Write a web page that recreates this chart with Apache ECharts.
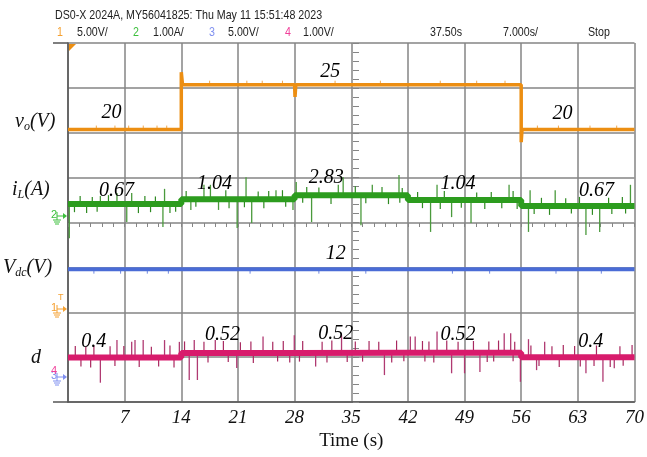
<!DOCTYPE html>
<html>
<head>
<meta charset="utf-8">
<script src="https://cdn.jsdelivr.net/npm/echarts@6/dist/echarts.min.js"></script>
<style>
  html, body { margin: 0; padding: 0; background: #fff; }
  #main { width: 647px; height: 457px; }
</style>
</head>
<body>
<div id="main"></div>
<script>
// scope screen: x in seconds, y in divisions (0 = bottom grid line, 8 = top)
const stepTimes = [0, 14, 28, 42, 56, 70];

// vo trace (orange), with step overshoots
const voT = [0, 14, 14, 14.15, 28, 28.05, 28.15, 56, 56, 56.1, 70];
const voD = [6.07, 6.07, 7.35, 7.07, 7.07, 6.8, 7.07, 7.07, 5.79, 6.07, 6.07];
const voLevel = [6.07, 7.07, 7.07, 7.07, 6.07];

// levels per step segment
const iLLevel = [4.41, 4.52, 4.61, 4.50, 4.37];
const vdcLevel = [2.96, 2.96, 2.96, 2.96, 2.96];
const dLevel = [0.99, 1.09, 1.10, 1.10, 1.00];

// large noise spikes: time and tip (divisions)
const iLSpikeT = [0.16, 4.0, 6.05, 7.26, 7.87, 11.73, 11.93, 15.18, 16.8, 17.6, 18.6, 20.9, 22.0, 22.7, 25.7, 27.8, 28.2, 30.1, 33.4, 34.0,
  36.2, 37.6, 40.9, 44.8, 45.6, 47.4, 49.8, 54.5, 56.9, 57.1, 60.2, 64.0, 65.7, 69.5];
const iLSpikeD = [3.65, 4.59, 4.66, 4.01, 4.66, 3.90, 4.75, 4.28, 4.84, 4.84, 4.28, 3.88, 5.01, 3.99, 4.72, 4.28, 4.90, 4.01, 4.84, 5.01,
  3.94, 4.84, 5.06, 3.79, 4.84, 4.12, 3.99, 4.84, 3.79, 4.72, 4.72, 3.72, 3.79, 4.84];
const dSpikeT = [4.0, 6.05, 7.87, 8.28, 9.29, 11.93, 13.76, 14.98, 15.6, 15.99, 18.2, 20.85, 24.1, 27.96, 30.6, 33.8,
  39.1, 42.3, 42.9, 45.6, 47.4, 49.0, 50.9, 53.9, 54.7, 55.9, 56.9, 57.9, 58.9, 64.0, 66.1, 67.5, 69.7];
const dSpikeD = [0.43, 1.38, 1.34, 1.38, 1.38, 1.38, 1.34, 0.49, 1.38, 0.49, 1.38, 0.76, 1.46, 1.49, 0.79, 1.49,
  0.60, 1.46, 1.46, 1.57, 0.64, 0.64, 0.67, 1.53, 1.53, 0.45, 1.40, 0.71, 1.34, 0.64, 0.45, 0.75, 1.27];

// small fuzz around the bands: time and offset from band level (divisions)
const iLFuzzT = [1.5, 3.0, 5.0, 9.5, 10.8, 0.8, 2.3, 3.6, 8.7, 10.2, 12.6, 13.3,
  14.6, 19.5, 23.5, 24.8, 26.5, 15.8, 19.9, 21.8, 24.2, 26.9,
  29.5, 31.0, 35.5, 38.8, 41.3, 29.0, 32.5, 36.8, 39.6, 41.0,
  43.2, 46.5, 50.5, 52.3, 55.0, 43.8, 46.0, 48.6, 51.5, 53.6, 55.5,
  58.5, 61.5, 63.2, 66.8, 68.5, 57.6, 59.5, 62.2, 64.8, 67.2, 68.9];
const iLFuzzO = [0.18, 0.16, 0.2, 0.18, 0.17, -0.18, -0.2, -0.17, -0.2, -0.18, -0.2, -0.17,
  0.18, 0.2, 0.17, 0.18, 0.2, -0.17, -0.2, -0.18, -0.2, -0.17,
  0.18, 0.17, 0.2, 0.18, 0.16, -0.17, -0.2, -0.18, -0.2, -0.17,
  0.18, 0.2, 0.17, 0.18, 0.2, -0.18, -0.2, -0.17, -0.2, -0.18, -0.2,
  0.18, 0.17, 0.2, 0.18, 0.2, -0.18, -0.2, -0.17, -0.2, -0.18, -0.17];
const dFuzzT = [0.9, 2.2, 3.2, 5.2, 6.9, 10.3, 12.6, 1.6, 2.8, 5.8, 8.8, 11.2, 13.1,
  14.4, 16.8, 19.2, 21.3, 22.6, 25.3, 26.6, 17.3, 19.8, 22.9, 25.9, 27.4,
  29.0, 31.4, 32.6, 35.5, 37.2, 38.4, 40.6, 28.6, 32.0, 34.5, 36.4, 40.0, 41.5,
  43.8, 44.6, 46.8, 48.2, 50.1, 52.0, 53.2, 55.2, 44.1, 45.2, 51.8, 52.6, 55.0,
  57.2, 59.8, 61.2, 62.6, 65.3, 68.2, 58.2, 60.7, 63.3, 65.0, 67.0, 68.6];
const dFuzzO = [0.26, 0.24, 0.27, 0.25, 0.26, 0.24, 0.27, -0.2, -0.22, -0.19, -0.21, -0.2, -0.22,
  0.26, 0.25, 0.27, 0.24, 0.26, 0.25, 0.27, -0.21, -0.2, -0.22, -0.19, -0.21,
  0.26, 0.24, 0.27, 0.25, 0.26, 0.24, 0.27, -0.2, -0.22, -0.21, -0.2, -0.22, -0.19,
  0.26, 0.25, 0.27, 0.24, 0.26, 0.25, 0.27, 0.24, -0.2, -0.22, -0.21, -0.2, -0.19,
  0.26, 0.24, 0.27, 0.25, 0.26, 0.24, -0.2, -0.22, -0.21, -0.2, -0.22, -0.19];
const voFuzzT = [3.5, 5.8, 7.5, 9.3, 11.0, 12.2, 17.5, 22.1, 24.0, 26.5, 33.0, 38.6, 46.0, 50.5, 54.0, 58.0, 60.6, 64.5, 67.8];
const vdcFuzzT = [3.2, 6.5, 9.8, 12.4, 22.5, 31.0, 36.8, 47.5, 52.1, 60.3, 65.9];

// value annotations
const annoText = ['20', '25', '20', '0.67', '1.04', '2.83', '1.04', '0.67', '12', '0.4', '0.52', '0.52', '0.52', '0.4'];
const annoT = [5.36, 32.4, 61.1, 6.0, 18.1, 31.9, 48.2, 65.3, 33.1, 3.17, 19.1, 33.1, 48.2, 64.6];
const annoD = [6.45, 7.36, 6.43, 4.70, 4.86, 4.99, 4.87, 4.70, 3.30, 1.35, 1.50, 1.52, 1.49, 1.35];

const serif = '"Liberation Serif", "DejaVu Serif", serif';
const gridColor = '#858585';

function stepPoints(levels) {
  let pts = [];
  for (let i = 0; i < levels.length; i++) {
    pts.push([stepTimes[i], levels[i]]);
    pts.push([stepTimes[i + 1], levels[i]]);
  }
  return pts;
}
function levelAt(levels, t) {
  for (let i = 0; i < levels.length; i++) {
    if (t < stepTimes[i + 1]) return levels[i];
  }
  return levels[levels.length - 1];
}
function spikeData(levels, ts, ds) {
  return ts.map((t, i) => [t, levelAt(levels, t), ds[i]]);
}
function fuzzData(levels, ts, offs) {
  return ts.map((t, i) => [t, levelAt(levels, t), levelAt(levels, t) + (Array.isArray(offs) ? offs[i] : offs)]);
}
function spikeSeries(data, color, w) {
  return {
    type: 'custom',
    data: data,
    silent: true,
    renderItem: function (params, api) {
      let a = api.coord([api.value(0), api.value(1)]);
      let b = api.coord([api.value(0), api.value(2)]);
      return { type: 'line', shape: { x1: a[0], y1: a[1], x2: b[0], y2: b[1] }, style: { stroke: color, lineWidth: w || 1.3 } };
    },
    z: 2
  };
}
function traceSeries(data, color, width) {
  return { type: 'line', data: data, symbol: 'none', lineStyle: { color: color, width: width }, z: 3, silent: true };
}

let chart = echarts.init(document.getElementById('main'));

let tickAxis = {
  type: 'value', min: 0, max: 70, interval: 7, position: 'bottom', offset: -180,
  axisLine: { show: false }, axisLabel: { show: false }, splitLine: { show: false },
  axisTick: { show: true, length: 4, lineStyle: { color: gridColor } },
  minorTick: { show: true, splitNumber: 5, length: 4, lineStyle: { color: gridColor } }
};
function vTickAxis(inside) {
  return {
    type: 'value', min: 0, max: 8, interval: 1, position: 'left', offset: -288,
    axisLine: { show: false }, axisLabel: { show: false }, splitLine: { show: false },
    axisTick: { show: true, inside: inside, length: 3, lineStyle: { color: gridColor } },
    minorTick: { show: true, splitNumber: 5, length: 3, lineStyle: { color: gridColor } }
  };
}

function groundMark(x, y, num, color, numColor) {
  return [
    { type: 'text', x: x - 9, y: y - 1, style: { text: num, fill: numColor || color, font: '11px "Liberation Sans", sans-serif', textVerticalAlign: 'middle' } },
    { type: 'polygon', shape: { points: [[x + 3, y - 3], [x + 7, y], [x + 3, y + 3]] }, style: { fill: color } },
    { type: 'polyline', shape: { points: [[x - 3, y - 4], [x - 3, y], [x + 3, y]] }, style: { stroke: color, lineWidth: 1, fill: null } },
    { type: 'line', shape: { x1: x - 3, y1: y, x2: x - 3, y2: y + 4 }, style: { stroke: color, lineWidth: 1 } },
    { type: 'line', shape: { x1: x - 7, y1: y + 4, x2: x + 1, y2: y + 4 }, style: { stroke: color, lineWidth: 1 } },
    { type: 'line', shape: { x1: x - 6, y1: y + 6, x2: x, y2: y + 6 }, style: { stroke: color, lineWidth: 1 } },
    { type: 'line', shape: { x1: x - 5, y1: y + 8, x2: x - 1, y2: y + 8 }, style: { stroke: color, lineWidth: 1 } }
  ];
}

// header text of the scope, narrow font made by horizontal scaling
let header = [
  { t: 'DS0-X 2024A, MY56041825: Thu May 11 15:51:48 2023', x: 55, y: 15, c: '#222' },
  { t: '1', x: 57, y: 32, c: '#f5a030' },
  { t: '5.00V/', x: 77, y: 32, c: '#222' },
  { t: '2', x: 133, y: 32, c: '#3cbf3c' },
  { t: '1.00A/', x: 153, y: 32, c: '#222' },
  { t: '3', x: 209, y: 32, c: '#7f8ff0' },
  { t: '5.00V/', x: 228, y: 32, c: '#222' },
  { t: '4', x: 285, y: 32, c: '#f0409a' },
  { t: '1.00V/', x: 303, y: 32, c: '#222' },
  { t: '37.50s', x: 430, y: 32, c: '#222' },
  { t: '7.000s/', x: 503, y: 32, c: '#222' },
  { t: 'Stop', x: 588, y: 32, c: '#222' }
].map(h => ({
  type: 'text', x: h.x, y: h.y, scaleX: 0.82,
  style: { text: h.t, fill: h.c, font: '13px "Liberation Sans", "DejaVu Sans", sans-serif', textVerticalAlign: 'middle' }
}));

let richLab = {
  i: { fontFamily: serif, fontStyle: 'italic', fontSize: 20, color: '#111', lineHeight: 22 },
  s: { fontFamily: serif, fontStyle: 'italic', fontSize: 12, color: '#111', verticalAlign: 'bottom', lineHeight: 22, padding: [9, 0, 0, 0] }
};
function sideLabel(x, y, txt) {
  return { type: 'text', x: x, y: y, style: { text: txt, rich: richLab, textVerticalAlign: 'middle', fill: '#111' } };
}

let option = {
  animation: false,
  backgroundColor: '#fff',
  grid: { left: 68, right: 4, top: 43, bottom: 55 },
  xAxis: [
    {
      type: 'value', min: 0, max: 70, interval: 7,
      name: 'Time (s)', nameLocation: 'middle', nameGap: 30,
      nameTextStyle: { fontFamily: serif, fontSize: 19, color: '#111' },
      axisLine: { show: true, lineStyle: { color: '#555', width: 1.5 } },
      axisTick: { show: false },
      axisLabel: {
        margin: 6, fontFamily: serif, fontStyle: 'italic', fontSize: 19, color: '#111',
        formatter: v => (v === 0 ? '' : String(v))
      },
      splitLine: { show: true, lineStyle: { color: gridColor, width: 1.5 } }
    },
    tickAxis
  ],
  yAxis: [
    {
      type: 'value', min: 0, max: 8, interval: 1,
      axisLine: { show: true, lineStyle: { color: '#555', width: 1.5 } },
      axisTick: { show: false }, axisLabel: { show: false },
      splitLine: { show: true, lineStyle: { color: gridColor, width: 1.5 } }
    },
    vTickAxis(false),
    vTickAxis(true)
  ],
  series: [
    spikeSeries(fuzzData(voLevel, voFuzzT, 0.09), '#f0a850', 1),
    spikeSeries(fuzzData(vdcLevel, vdcFuzzT, -0.1), '#7088e0', 1),
    spikeSeries(fuzzData(iLLevel, iLFuzzT, iLFuzzO), '#2f8a22', 1.2),
    spikeSeries(fuzzData(dLevel, dFuzzT, dFuzzO), '#a8285f', 1.2),
    spikeSeries(spikeData(iLLevel, iLSpikeT, iLSpikeD), '#4a9a3c', 1.3),
    spikeSeries(spikeData(dLevel, dSpikeT, dSpikeD), '#b03a72', 1.3),
    traceSeries(voT.map((t, i) => [t, voD[i]]), '#ec8e12', 3.5),
    traceSeries(stepPoints(iLLevel), '#2c9c1e', 6),
    traceSeries(stepPoints(vdcLevel), '#4a6cd6', 4),
    traceSeries(stepPoints(dLevel), '#d81b6c', 6),
    {
      type: 'custom', silent: true, z: 5,
      data: annoT.map((t, i) => [t, annoD[i], i]),
      renderItem: function (params, api) {
        let p = api.coord([api.value(0), api.value(1)]);
        return {
          type: 'text', x: p[0], y: p[1],
          style: {
            text: annoText[api.value(2)], fill: '#000',
            font: 'italic 20px ' + serif, textAlign: 'center', textVerticalAlign: 'middle'
          }
        };
      }
    }
  ],
  graphic: [].concat(
    header,
    [
      { type: 'line', shape: { x1: 53, y1: 43, x2: 68, y2: 43 }, style: { stroke: '#555', lineWidth: 1.5 } },
      { type: 'line', shape: { x1: 53, y1: 402, x2: 68, y2: 402 }, style: { stroke: '#555', lineWidth: 1.5 } },
      { type: 'polygon', shape: { points: [[69, 44], [76, 44], [69, 51]] }, style: { fill: '#ec8e12' } },
      sideLabel(15, 122, '{i|v}{s|o}{i|(V)}'),
      sideLabel(12, 190, '{i|i}{s|L}{i|(A)}'),
      sideLabel(3, 268, '{i|V}{s|dc}{i|(V)}'),
      sideLabel(31, 358, '{i|d}'),
      { type: 'text', x: 58, y: 298, style: { text: 'T', fill: '#f5a030', font: '9px "Liberation Sans", sans-serif', textVerticalAlign: 'middle' } }
    ],
    groundMark(60, 216, '2', '#3cbf3c'),
    groundMark(60, 309, '1', '#f5a030'),
    groundMark(60, 377, '3', '#7f8ff0'),
    [{ type: 'text', x: 51, y: 371, style: { text: '4', fill: '#f0409a', font: '11px "Liberation Sans", sans-serif', textVerticalAlign: 'middle' } }]
  )
};

chart.setOption(option);
</script>
</body>
</html>
